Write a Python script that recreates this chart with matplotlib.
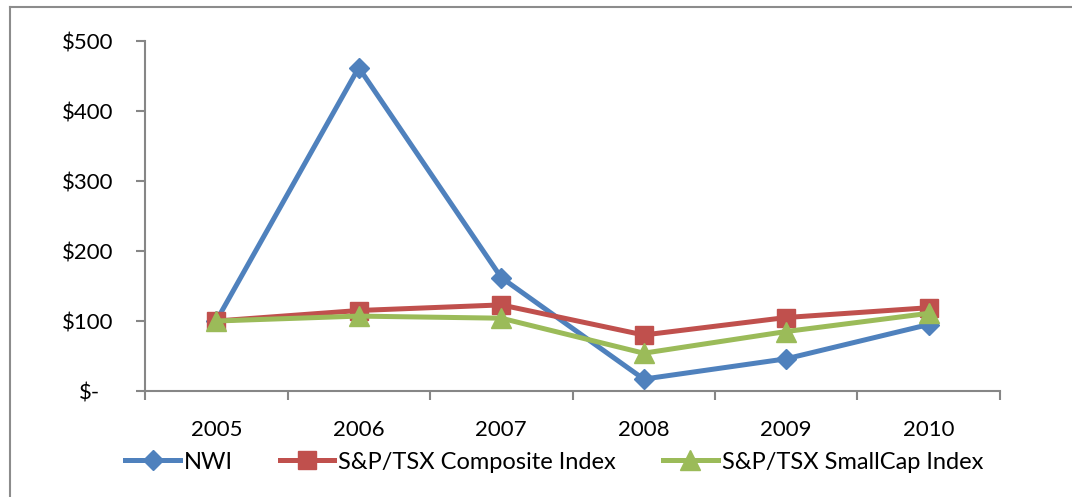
import matplotlib
matplotlib.use("Agg")
import matplotlib.pyplot as plt
import matplotlib.transforms as mtransforms
from matplotlib.lines import Line2D

years = ["2005", "2006", "2007", "2008", "2009", "2010"]
nwi = [100, 462, 162, 17, 46, 95]
composite = [100, 115, 123, 80, 105, 119]
smallcap = [100, 107, 104, 54, 85, 111]
series_names = ["NWI", "S&P/TSX Composite Index", "S&P/TSX SmallCap Index"]
y_ticks = [0, 100, 200, 300, 400, 500]
y_labels = ["$-", "$100", "$200", "$300", "$400", "$500"]

plt.rcParams['font.family'] = ['Lato', 'DejaVu Sans']

fig = plt.figure(figsize=(10.72, 4.97), dpi=100)
ax = fig.add_axes([145/1072, 1-391/497, (1000-145)/1072, (391-41)/497])

blue, red, green = "#4F81BD", "#C0504D", "#9BBB59"
x = list(range(len(years)))
lw = 3.6
ax.plot(x, nwi, color=blue, lw=lw, marker="D", ms=10, label=series_names[0], zorder=3)
ax.plot(x, composite, color=red, lw=lw, marker="s", ms=13, label=series_names[1], zorder=4)
ax.plot(x, smallcap, color=green, lw=lw, marker="^", ms=14, label=series_names[2], zorder=5)

ax.set_xlim(-0.5, len(years) - 0.5)
ax.set_ylim(0, 500)
ax.set_yticks(y_ticks)
ax.set_yticklabels(y_labels)
ax.set_xticks(x)
ax.set_xticklabels(years)
ax.set_xticks([i - 0.5 for i in range(len(years) + 1)], minor=True)

gray = "#868686"
for s in ["top", "right"]:
    ax.spines[s].set_visible(False)
for s in ["left", "bottom"]:
    ax.spines[s].set_color(gray)
    ax.spines[s].set_linewidth(1.5)

ax.tick_params(axis="y", direction="out", length=6.5, width=1.5, color=gray, labelsize=16, pad=16.5)
ax.tick_params(axis="x", which="major", length=0, labelsize=16, pad=21)
ax.tick_params(axis="x", which="minor", direction="out", length=6.5, width=1.5, color=gray)

# accounting-style offset for "$-"
lbl = ax.get_yticklabels()[0]
lbl.set_transform(lbl.get_transform() + mtransforms.ScaledTranslation(-13/100, 0, fig.dpi_scale_trans))

handles = [
    Line2D([0], [0], color=blue, lw=lw, marker="D", ms=10),
    Line2D([0], [0], color=red, lw=lw, marker="s", ms=13),
    Line2D([0], [0], color=green, lw=lw, marker="^", ms=14),
]
fig.legend(handles, series_names, loc="center", bbox_to_anchor=(0.517, 0.07), ncol=3,
           frameon=False, fontsize=17, handlelength=2.3, handletextpad=0.17,
           columnspacing=2.0, borderpad=0.2)

# outer frame: left and top edges
fig.add_artist(Line2D([9.5/1072, 9.5/1072], [0, 1-6.5/497], color="#8c8c8c", lw=1.5, transform=fig.transFigure))
fig.add_artist(Line2D([9.5/1072, 1], [1-6.5/497, 1-6.5/497], color="#8c8c8c", lw=1.5, transform=fig.transFigure))

fig.savefig("out.png", dpi=100)
